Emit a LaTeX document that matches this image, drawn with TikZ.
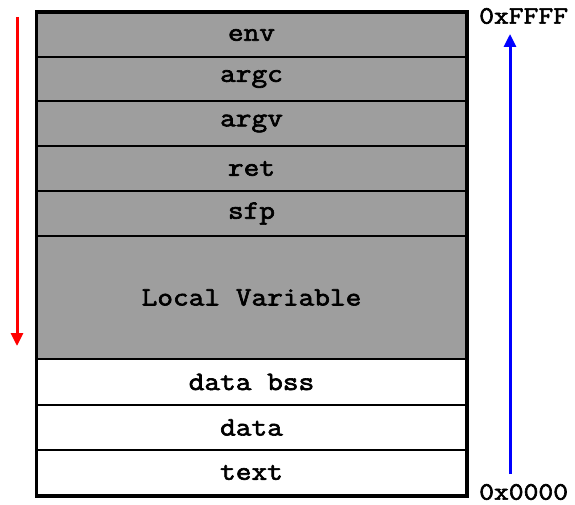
\documentclass[tikz,border=0pt]{standalone}
\usepackage{fontspec}
\setmonofont{Latin Modern Mono}[BoldFont={Latin Modern Mono}, BoldFeatures={FakeBold=2.5}, FakeStretch=1.15]
\usetikzlibrary{arrows.meta}
\definecolor{cellgray}{RGB}{158,158,158}
\tikzset{
  row/.style={draw=black, line width=2pt, minimum width=429pt, inner sep=0pt, anchor=north west,
    font=\ttfamily\bfseries\fontsize{26.5}{26.5}\selectfont},
  stackrow/.style={row, fill=cellgray},
  heaprow/.style={row, fill=white},
  addr/.style={font=\ttfamily\bfseries\fontsize{25}{25}\selectfont, inner sep=0pt, anchor=west},
  dirarrow/.style={line width=3pt, -{Triangle[length=13pt,width=12pt]}}
}
\begin{document}
\begin{tikzpicture}[x=1pt,y=-1pt]
\useasboundingbox (0,0) rectangle (575,505);
\node[stackrow, minimum height=44pt] (env) at (36,12) {env};
\node[stackrow, minimum height=44pt] (argc) at (36,56) {argc};
\node[stackrow, minimum height=45pt] (argv) at (36,100) {argv};
\node[stackrow, minimum height=45pt] (ret) at (36,145) {ret};
\node[stackrow, minimum height=45pt] (sfp) at (36,190) {sfp};
\node[stackrow, minimum height=123pt] (local) at (36,235) {Local Variable};
\node[heaprow, minimum height=46pt] (bss) at (36,358) {data bss};
\node[heaprow, minimum height=45pt] (data) at (36,404) {data};
\node[heaprow, minimum height=45pt] (text) at (36,449) {text};
\draw[line width=3pt] (env.north west) rectangle (text.south east);
\node[addr] (hi) at (479,16) {0xFFFF};
\node[addr] (lo) at (479,492) {0x0000};
\coordinate (rtop) at (17,17);
\coordinate (rbot) at (17,346);
\coordinate (btop) at (510,34);
\coordinate (bbot) at (510,474);
\draw[dirarrow, red] (rtop) -- (rbot);
\draw[dirarrow, blue] (bbot) -- (btop);
\end{tikzpicture}
\end{document}
